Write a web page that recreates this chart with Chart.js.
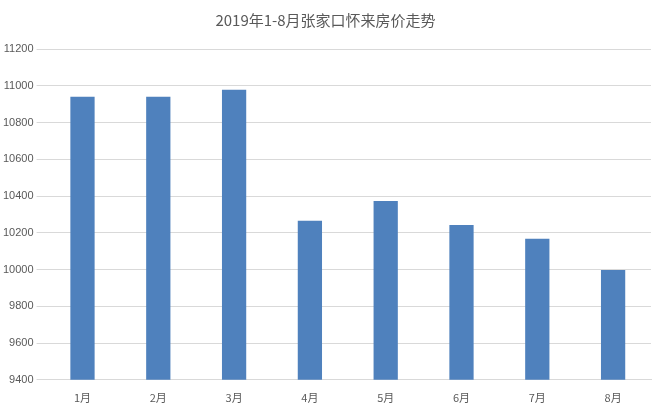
<!DOCTYPE html>
<html><head><meta charset="utf-8">
<script src="https://cdn.jsdelivr.net/npm/chart.js@4"></script>
<style>html,body{margin:0;padding:0;background:#fff}#w{width:663px;height:409px}</style>
</head><body><div id="w"><canvas id="c"></canvas></div>
<script>
const title = "2019年1-8月张家口怀来房价走势";
const categories = ["1月","2月","3月","4月","5月","6月","7月","8月"];
const prices = [10940,10940,10978,10265,10373,10243,10167,9998];
new Chart(document.getElementById('c'), {
  type: 'bar',
  data: { labels: categories, datasets: [{ data: prices, backgroundColor: '#4f81bd', barPercentage: 0.32, categoryPercentage: 1 }] },
  options: {
    responsive: true, maintainAspectRatio: false, animation: false,
    layout: { padding: { left: 0, right: 12, top: 7, bottom: 2 } },
    plugins: {
      legend: { display: false },
      title: { display: true, text: title, color: '#595959', font: { family: 'Noto Sans CJK SC', size: 15, weight: 'normal' }, padding: { top: 4, bottom: 20 } },
      tooltip: { enabled: false }
    },
    scales: {
      x: { grid: { display: false }, border: { color: '#d9d9d9' }, ticks: { color: '#595959', font: { family: 'Noto Sans CJK SC', size: 11 } } },
      y: { min: 9400, max: 11200, ticks: { stepSize: 200, color: '#595959', font: { family: 'Liberation Sans', size: 11 }, callback: v => String(v) }, grid: { color: '#d9d9d9' }, border: { display: false } }
    }
  }
});
</script></body></html>
